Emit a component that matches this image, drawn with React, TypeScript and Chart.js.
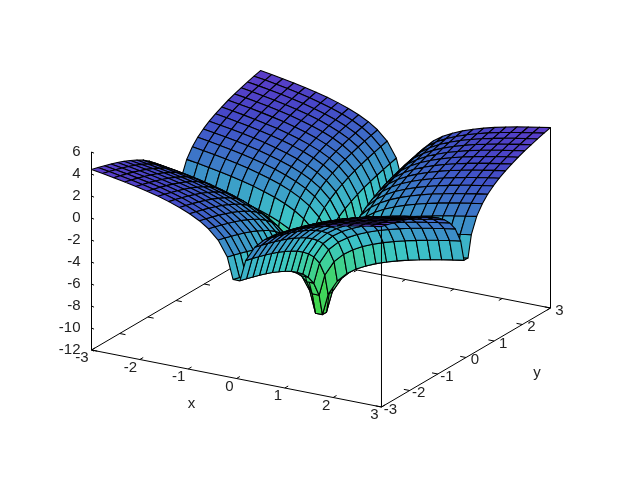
import React, { useEffect, useRef } from "react";
import { Chart, registerables } from "chart.js";

Chart.register(...registerables);

// sampling positions on both the x and y axes
const gridX = [-3,-2.77,-2.54,-2.31,-2.08,-1.85,-1.62,-1.4,-1.18,-0.97,-0.77,-0.58,-0.38,-0.19,-0.072,0.072,0.19,0.38,0.58,0.77,0.97,1.18,1.4,1.62,1.85,2.08,2.31,2.54,2.77,3];
const gridY = gridX;

// z heights for one quadrant of the surface, which is mirrored into the other three
const quadrantZ = [
[4.40,4.24,4.06,3.87,3.66,3.43,3.16,2.87,2.53,2.14,1.68,1.11,0.26,-1.12,-3.06],
[4.24,4.08,3.90,3.71,3.50,3.27,3.00,2.71,2.37,1.98,1.52,0.95,0.10,-1.28,-3.22],
[4.06,3.90,3.72,3.53,3.32,3.09,2.82,2.53,2.19,1.80,1.34,0.77,-0.08,-1.46,-3.40],
[3.87,3.71,3.53,3.34,3.13,2.90,2.63,2.34,2.00,1.61,1.15,0.58,-0.27,-1.65,-3.59],
[3.66,3.50,3.32,3.13,2.92,2.69,2.42,2.13,1.79,1.40,0.94,0.37,-0.48,-1.86,-3.80],
[3.43,3.27,3.09,2.90,2.69,2.46,2.19,1.90,1.56,1.17,0.71,0.14,-0.71,-2.09,-4.03],
[3.16,3.00,2.82,2.63,2.42,2.19,1.92,1.63,1.29,0.90,0.44,-0.13,-0.98,-2.36,-4.30],
[2.87,2.71,2.53,2.34,2.13,1.90,1.63,1.34,1.00,0.61,0.15,-0.42,-1.27,-2.65,-4.59],
[2.53,2.37,2.19,2.00,1.79,1.56,1.29,1.00,0.66,0.27,-0.19,-0.76,-1.61,-2.99,-4.93],
[2.14,1.98,1.80,1.61,1.40,1.17,0.90,0.61,0.27,-0.12,-0.58,-1.15,-2.00,-3.38,-5.32],
[1.68,1.52,1.34,1.15,0.94,0.71,0.44,0.15,-0.19,-0.58,-1.04,-1.61,-2.46,-3.84,-5.78],
[1.11,0.95,0.77,0.58,0.37,0.14,-0.13,-0.42,-0.76,-1.15,-1.61,-2.18,-3.03,-4.41,-6.35],
[0.26,0.10,-0.08,-0.27,-0.48,-0.71,-0.98,-1.27,-1.61,-2.00,-2.46,-3.03,-3.88,-5.26,-7.20],
[-1.12,-1.28,-1.46,-1.65,-1.86,-2.09,-2.36,-2.65,-2.99,-3.38,-3.84,-4.41,-5.26,-6.64,-8.58],
[-3.06,-3.22,-3.40,-3.59,-3.80,-4.03,-4.30,-4.59,-4.93,-5.32,-5.78,-6.35,-7.20,-8.58,-10.52],
];

const xTicks = [-3, -2, -1, 0, 1, 2, 3];
const yTicks = [-3, -2, -1, 0, 1, 2, 3];
const zTicks = [-12, -10, -8, -6, -4, -2, 0, 2, 4, 6];
const xTitle = "x";
const yTitle = "y";

// palette: z height and colour
const paletteZ = [4.4, 3, 2, 0, -2, -3, -5, -7, -10.52];
const paletteRGB = [[92,60,200],[72,70,200],[64,88,200],[60,130,200],[60,176,200],[60,196,200],[62,208,160],[64,212,112],[64,216,64]];

const corner = 3;
const zFloor = -12;
const zTop = 6;
const last = gridX.length - 1;

function project(x: number, y: number, z: number) {
  return {
    x: 91.5 + (x + 3) * 48.33 + (y + 3) * 28.17,
    y: 350 + (x + 3) * 9.5 - (y + 3) * 16.5 - (z - zFloor) * 11,
  };
}
const depth = (x: number, y: number, z: number) => 24.2 * x - 41.9 * y + 9.35 * z;
const zAt = (i: number, j: number) => quadrantZ[Math.min(i, last - i)][Math.min(j, last - j)];

function colorFor(z: number) {
  let k = 0;
  while (k < paletteZ.length - 2 && z < paletteZ[k + 1]) k++;
  const t = Math.max(0, Math.min(1, (paletteZ[k] - z) / (paletteZ[k] - paletteZ[k + 1])));
  const c = paletteRGB[k].map((v, n) => Math.round(v + (paletteRGB[k + 1][n] - v) * t));
  return `rgb(${c[0]},${c[1]},${c[2]})`;
}

function lineSet(a: number[], b: number[], width = 1) {
  return {
    data: [project(a[0], a[1], a[2]), project(b[0], b[1], b[2])],
    showLine: true, borderColor: "#000", borderWidth: width, pointRadius: 0, fill: false, tension: 0,
  };
}

function buildDatasets() {
  const quads: { d: number; set: any }[] = [];
  for (let i = 0; i < last; i++) {
    for (let j = 0; j < last; j++) {
      const cs: number[][] = [[i, j], [i + 1, j], [i + 1, j + 1], [i, j + 1], [i, j]];
      const pts = cs.map(([a, b]) => project(gridX[a], gridY[b], zAt(a, b)));
      const zs = cs.slice(0, 4).map(([a, b]) => zAt(a, b));
      const mean = (zs[0] + zs[1] + zs[2] + zs[3]) / 4;
      const mx = (gridX[i] + gridX[i + 1]) / 2;
      const my = (gridY[j] + gridY[j + 1]) / 2;
      quads.push({
        d: depth(mx, my, mean),
        set: {
          data: pts, showLine: true, borderColor: "#000", borderWidth: 1.1, pointRadius: 0,
          backgroundColor: colorFor(mean), fill: "shape", tension: 0, borderJoinStyle: "round",
        },
      });
    }
  }
  quads.sort((p, q) => q.d - p.d); // nearest first: the first dataset is painted last

  const c = corner;
  const tl = 0.12;
  const front: any[] = [
    lineSet([-c, -c, zFloor], [c, -c, zFloor]),
    lineSet([c, -c, zFloor], [c, c, zFloor]),
    lineSet([-c, -c, zFloor], [-c, -c, zTop]),
    lineSet([c, -c, zFloor], [c, -c, zAt(last, 0)]),
    lineSet([c, c, zFloor], [c, c, zAt(last, last)]),
  ];
  xTicks.forEach((t) => front.push(lineSet([t, -c, zFloor], [t, -c + tl, zFloor])));
  yTicks.forEach((t) => front.push(lineSet([c, t, zFloor], [c - tl, t, zFloor])));
  zTicks.forEach((t) => front.push(lineSet([-c, -c, t], [-c + 0.07, -c - 0.03, t])));

  const back: any[] = [
    lineSet([-c, -c, zFloor], [-c, c, zFloor]),
    lineSet([-c, c, zFloor], [c, c, zFloor]),
    lineSet([-c, c, zFloor], [-c, c, zAt(0, last)]),
  ];
  xTicks.forEach((t) => back.push(lineSet([t, c, zFloor], [t, c - tl, zFloor])));
  yTicks.forEach((t) => back.push(lineSet([-c, t, zFloor], [-c + tl, t, zFloor])));

  return [...front, ...quads.map((q) => q.set), ...back];
}

const axisText = {
  id: "axisText",
  afterDatasetsDraw(chart: any) {
    const { ctx, scales } = chart;
    const put = (s: string, px: number, py: number, align: CanvasTextAlign) => {
      ctx.textAlign = align;
      ctx.fillText(s, scales.x.getPixelForValue(px), scales.y.getPixelForValue(py));
    };
    ctx.save();
    ctx.font = '15px "Liberation Sans"';
    ctx.fillStyle = "#222";
    ctx.textBaseline = "middle";
    xTicks.forEach((t) => { const p = project(t, -corner, zFloor); put(String(t), p.x + (t < 0 ? -9.5 : -7), p.y + 8, "center"); });
    yTicks.forEach((t) => { const p = project(corner, t, zFloor); put(String(t), p.x + 9, p.y + 2.5, "center"); });
    zTicks.forEach((t) => { const p = project(-corner, -corner, t); put(String(t), p.x - 11, p.y, "right"); });
    const xp = project(0, -corner, zFloor);
    put(xTitle, xp.x - 45, xp.y + 25, "center");
    const yp = project(corner, 0, zFloor);
    put(yTitle, yp.x + 71, yp.y + 15, "center");
    ctx.restore();
  },
};

export default function App() {
  const ref = useRef<HTMLCanvasElement>(null);
  useEffect(() => {
    const chart = new Chart(ref.current as HTMLCanvasElement, {
      type: "scatter",
      data: { datasets: buildDatasets() as any },
      options: {
        animation: false,
        responsive: false,
        events: [],
        layout: { padding: 0 },
        clip: false as any,
        plugins: { legend: { display: false }, tooltip: { enabled: false } },
        scales: {
          x: { type: "linear", min: 0, max: 640, display: false },
          y: { type: "linear", min: 0, max: 480, reverse: true, display: false },
        },
      },
      plugins: [axisText],
    });
    return () => chart.destroy();
  }, []);
  return (
    <canvas ref={ref} width={640} height={480} style={{ position: "fixed", left: 0, top: 0, width: 640, height: 480, background: "#fff" }} />
  );
}
